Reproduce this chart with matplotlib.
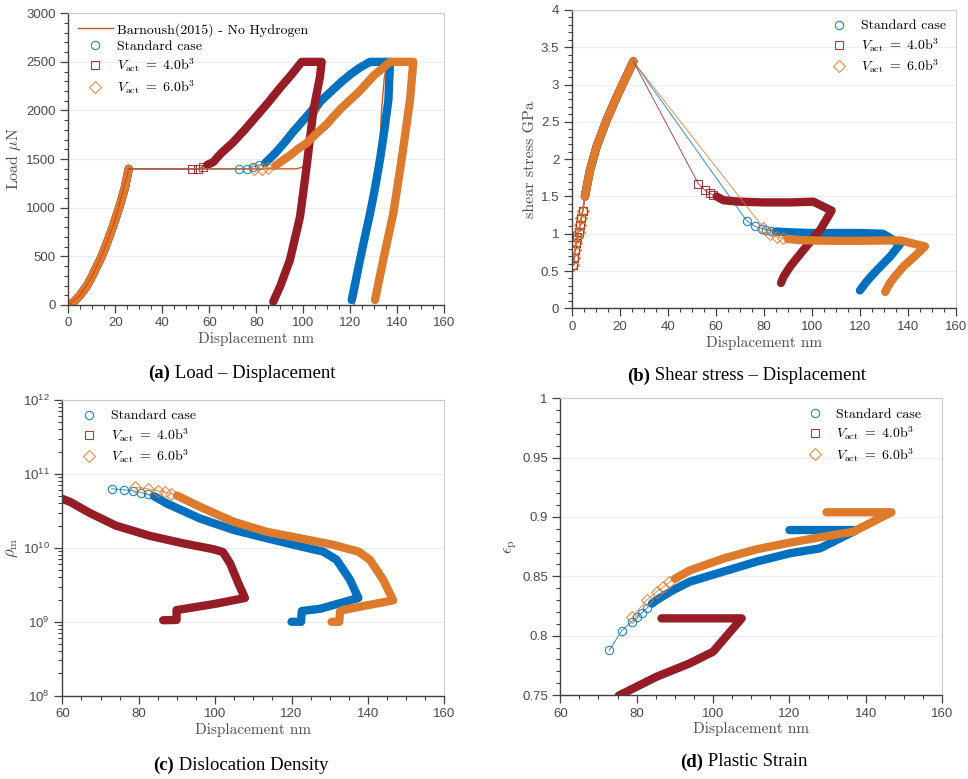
import matplotlib
matplotlib.use("Agg")
import matplotlib.pyplot as plt
from matplotlib.text import Annotation
from matplotlib.ticker import MultipleLocator, LogLocator, NullFormatter, FuncFormatter

plt.rcParams['mathtext.fontset'] = 'cm'
plt.rcParams['font.family'] = ['Liberation Sans', 'DejaVu Sans']

BLUE = '#0070BF'
RED = '#961C25'
ORANGE = '#DE7A2C'
BARN = '#D95319'

LBL_BARN = 'Barnoush(2015) - No Hydrogen'
LBL_STD = 'Standard case'
LBL_V4 = r'$V_{\mathrm{act}}\ =\ 4.0\mathrm{b}^3$'
LBL_V6 = r'$V_{\mathrm{act}}\ =\ 6.0\mathrm{b}^3$'

# ---------------- (a) Load - Displacement ----------------
a_el_x = [0, 2, 5, 8, 10, 12, 14, 16, 18, 20, 22, 24, 25.7]
a_el_y = [0, 25, 100, 200, 290, 390, 490, 610, 740, 880, 1030, 1200, 1400]

a_barn_x = [0, 5, 10, 15, 20, 25.7, 60, 97, 100, 102, 104, 108, 112, 116, 120, 125, 130, 136,
            134.5, 133.3, 132.3, 130.5, 128.5, 126, 124.5, 123, 121.5]
a_barn_y = [0, 100, 290, 550, 880, 1400, 1400, 1400, 1420, 1650, 1900, 2060, 2180, 2280, 2370,
            2450, 2490, 2500, 2350, 2000, 1500, 1150, 850, 600, 350, 150, 0]

a_std_sx = [72.8, 75.9, 78.7, 81.3]
a_std_sy = [1399, 1399, 1423, 1440]
a_std_bx = [83.7, 88, 92, 96, 100, 104, 108, 112, 116, 120, 124, 128.4, 136.9,
            136.2, 134.5, 132.6, 130.5, 128.4, 126.2, 124.1, 122.3, 120.6]
a_std_by = [1458, 1560, 1670, 1790, 1900, 2010, 2110, 2200, 2290, 2370, 2440, 2500, 2500,
            2108, 1800, 1491, 1200, 943, 700, 463, 250, 51]

a_v4_sx = [52.5, 55.1, 57.2]
a_v4_sy = [1399, 1396, 1423]
a_v4_bx = [59.1, 61.7, 65, 70, 75, 80, 85, 90, 95, 99.3, 107.8, 107.1, 104.3, 101.4, 98.6, 94.3, 90.1, 87.2]
a_v4_by = [1440, 1470, 1560, 1670, 1800, 1940, 2080, 2230, 2370, 2500, 2500, 2348, 2005, 1423, 908, 463, 189, 34]

a_v6_sx = [79.1, 82.6, 85.1]
a_v6_sy = [1400, 1400, 1410]
a_v6_bx = [88, 91.5, 95, 98, 101.4, 105, 110, 112.8, 116, 120, 124, 127, 130, 134, 136.9, 146.8,
           145.4, 141.8, 138.3, 134, 130.5]
a_v6_by = [1430, 1491, 1550, 1610, 1663, 1750, 1860, 1937, 2020, 2110, 2200, 2280, 2360, 2440, 2500, 2500,
           2108, 1491, 943, 463, 51]

# ---------------- (b) Shear stress - Displacement ----------------
b_el_sx = [0.67, 0.96, 1.38, 1.8, 2.35, 2.9, 3.46, 3.9, 4.6]
b_el_sy = [0.58, 0.68, 0.78, 0.87, 0.95, 1.03, 1.12, 1.21, 1.30]
b_el_bx = [5.5, 7.6, 10.4, 14.6, 19.4, 25.7]
b_el_by = [1.50, 1.85, 2.17, 2.53, 2.88, 3.31]

b_std_sx = [72.9, 76.4, 79.2, 81, 83]
b_std_sy = [1.175, 1.10, 1.07, 1.055, 1.04]
b_std_bx = [85, 90, 100, 110, 120, 129.7, 136.8, 132.6, 127.1, 122.9, 120.1]
b_std_by = [1.03, 1.02, 1.01, 1.01, 1.01, 1.0, 0.86, 0.69, 0.51, 0.36, 0.24]

b_v4_sx = [52.8, 55.6, 57.6, 59]
b_v4_sy = [1.67, 1.58, 1.54, 1.52]
b_v4_bx = [60.4, 63.2, 66, 70, 80, 91, 100.7, 108.3, 103.5, 96.5, 91, 88.2, 87.2]
b_v4_by = [1.50, 1.45, 1.44, 1.43, 1.42, 1.42, 1.43, 1.31, 1.05, 0.78, 0.56, 0.42, 0.34]

b_v6_sx = [79.9, 82.6, 85.4, 88]
b_v6_sy = [1.08, 1.0, 0.96, 0.94]
b_v6_bx = [90, 95, 100, 110, 120, 130, 137, 147.2, 143, 138.2, 135, 132.6, 130.6]
b_v6_by = [0.93, 0.915, 0.91, 0.905, 0.905, 0.91, 0.91, 0.83, 0.7, 0.56, 0.44, 0.34, 0.22]

# ---------------- (c) Dislocation density ----------------
c_std_sx = [72.9, 76.1, 78.6, 80.5, 82.3]
c_std_sy = [6.3e10, 6.1e10, 5.9e10, 5.6e10, 5.3e10]
c_std_bx = [84, 87.3, 96, 104.8, 113.5, 122.2, 128.3, 131.8, 135.3, 137.5, 127.5, 122.7, 122.5, 120]
c_std_by = [5.0e10, 4.0e10, 2.5e10, 1.75e10, 1.35e10, 1.05e10, 8.9e9, 6.9e9, 3.7e9, 2.1e9,
            1.5e9, 1.4e9, 1.0e9, 1.0e9]

c_v4_sx = []
c_v4_sy = []
c_v4_bx = [60, 62, 67, 74, 83, 91.7, 99.5, 102, 103.9, 106.1, 107.8, 100, 91, 89.9, 89.9, 86.4]
c_v4_by = [4.6e10, 4.2e10, 3.0e10, 2.0e10, 1.45e10, 1.15e10, 9.6e9, 8.8e9, 6.2e9, 3.3e9, 2.1e9,
           1.75e9, 1.47e9, 1.44e9, 1.06e9, 1.05e9]

c_v6_sx = [79, 82.5, 85.1, 86.9, 88.5]
c_v6_sy = [6.6e10, 6.3e10, 5.9e10, 5.7e10, 5.4e10]
c_v6_bx = [90, 96, 104.8, 113.5, 122.2, 130.9, 137.5, 140.5, 144, 146.6, 133.6, 132.7, 132.5, 130.5]
c_v6_by = [5.1e10, 3.6e10, 2.26e10, 1.65e10, 1.35e10, 1.1e10, 8.9e9, 6.9e9, 3.7e9, 1.95e9,
           1.45e9, 1.38e9, 1.0e9, 1.0e9]

# ---------------- (d) Plastic strain ----------------
d_std_sx = [72.8, 76.1, 78.7, 80, 81.3, 82.6]
d_std_sy = [0.7876, 0.8042, 0.8118, 0.816, 0.819, 0.823]
d_std_bx = [84, 85.2, 89.6, 93.9, 102.7, 111.4, 120.1, 128, 136.7, 137.5, 120]
d_std_by = [0.827, 0.830, 0.8385, 0.8455, 0.854, 0.8624, 0.8694, 0.8736, 0.8876, 0.889, 0.889]

d_v4_sx = []
d_v4_sy = []
d_v4_bx = [75.3, 76.5, 85.2, 93.9, 100, 107.5, 86.5]
d_v4_by = [0.7495, 0.7514, 0.7654, 0.7767, 0.7865, 0.8146, 0.8146]

d_v6_sx = [78.9, 82.6, 85.2, 86.96, 88.5]
d_v6_sy = [0.816, 0.830, 0.837, 0.841, 0.845]
d_v6_bx = [90, 93.9, 102.7, 111.4, 120.1, 128.8, 136.7, 146.7, 129.7]
d_v6_by = [0.848, 0.855, 0.865, 0.8728, 0.8784, 0.8834, 0.8876, 0.904, 0.904]

BAND_LW = 6


def series(ax, sx, sy, bx, by, color, marker, label, start=None):
    # thin connecting line, sparse open markers, then the dense band
    xs = ([start[0]] if start else []) + list(sx) + [bx[0]]
    ys = ([start[1]] if start else []) + list(sy) + [by[0]]
    ax.plot(xs, ys, '-', color=color, lw=0.7, alpha=0.8)
    ax.plot(sx, sy, ls='none', marker=marker, ms=6, mfc='none', mec=color, mew=0.8,
            alpha=0.85, label=label)
    ax.plot(bx, by, '-', color=color, lw=BAND_LW, solid_capstyle='round', solid_joinstyle='round')


def style(ax):
    for s in ['top', 'right']:
        ax.spines[s].set_color('#cccccc')
        ax.spines[s].set_linewidth(0.8)
    for s in ['left', 'bottom']:
        ax.spines[s].set_color('#404040')
        ax.spines[s].set_linewidth(1.0)
    ax.tick_params(which='both', direction='out', colors='#404040', labelcolor='#4a4a4a',
                   labelsize=9.5, top=False, right=False)
    ax.tick_params(which='major', length=5.5, width=0.9)
    ax.tick_params(which='minor', length=3, width=0.8)
    ax.grid(axis='y', which='major', color='#ececec', lw=0.8)
    ax.set_axisbelow(True)
    ax.set_xlabel('Displacement nm', fontsize=11, family='cmr10', color='#505050', labelpad=2)


def legend(ax, **kw):
    h, l = ax.get_legend_handles_labels()
    ax.legend(h, l, frameon=False, prop={'family': 'cmr10', 'size': 10},
              handlelength=2.5, handletextpad=0.3, labelspacing=0.25, borderaxespad=0.3, **kw)


fig = plt.figure(figsize=(9.68, 7.79), dpi=100)
ax_a = fig.add_axes([0.0706, 0.6085, 0.3884, 0.3745])
ax_b = fig.add_axes([0.5906, 0.6042, 0.3967, 0.3830])
ax_c = fig.add_axes([0.0644, 0.1069, 0.3946, 0.3796])
ax_d = fig.add_axes([0.5788, 0.1078, 0.3946, 0.3809])

# (a)
ax = ax_a
style(ax)
for col in [BLUE, RED, ORANGE]:
    ax.plot(a_el_x, a_el_y, '-', color=col, lw=BAND_LW, solid_capstyle='round')
ax.plot(a_barn_x, a_barn_y, '-', color=BARN, lw=1.0, label=LBL_BARN)
peak = (a_el_x[-1], a_el_y[-1])
series(ax, a_std_sx, a_std_sy, a_std_bx, a_std_by, BLUE, 'o', LBL_STD, peak)
series(ax, a_v4_sx, a_v4_sy, a_v4_bx, a_v4_by, RED, 's', LBL_V4, peak)
series(ax, a_v6_sx, a_v6_sy, a_v6_bx, a_v6_by, ORANGE, 'D', LBL_V6, peak)
ax.set_xlim(0, 160)
ax.set_ylim(0, 3000)
ax.xaxis.set_major_locator(MultipleLocator(20))
ax.xaxis.set_minor_locator(MultipleLocator(5))
ax.yaxis.set_major_locator(MultipleLocator(500))
ax.yaxis.set_minor_locator(MultipleLocator(100))
ax.set_ylabel(r'$\mathrm{Load}\ \mu\mathrm{N}$', fontsize=11.5, color='#505050', labelpad=2)
legend(ax, loc='upper left', bbox_to_anchor=(0.0, 1.0))

# (b)
ax = ax_b
style(ax)
for col, mk in [(BLUE, 'o'), (RED, 's'), (ORANGE, 'D')]:
    ax.plot(b_el_sx + b_el_bx, b_el_sy + b_el_by, '-', color=col, lw=0.7)
    ax.plot(b_el_sx, b_el_sy, ls='none', marker=mk, ms=6, mfc='none', mec=col, mew=0.8)
    ax.plot(b_el_bx, b_el_by, '-', color=col, lw=BAND_LW, solid_capstyle='round')
peak = (b_el_bx[-1], b_el_by[-1])
series(ax, b_std_sx, b_std_sy, b_std_bx, b_std_by, BLUE, 'o', LBL_STD, peak)
series(ax, b_v4_sx, b_v4_sy, b_v4_bx, b_v4_by, RED, 's', LBL_V4, peak)
series(ax, b_v6_sx, b_v6_sy, b_v6_bx, b_v6_by, ORANGE, 'D', LBL_V6, peak)
ax.set_xlim(0, 160)
ax.set_ylim(0, 4)
ax.xaxis.set_major_locator(MultipleLocator(20))
ax.xaxis.set_minor_locator(MultipleLocator(5))
ax.yaxis.set_major_locator(MultipleLocator(0.5))
ax.yaxis.set_minor_locator(MultipleLocator(0.1))
ax.yaxis.set_major_formatter(FuncFormatter(lambda v, p: f'{v:g}'))
ax.set_ylabel('shear stress GPa', fontsize=11.5, family='cmr10', color='#505050', labelpad=3)
legend(ax, loc='upper right', bbox_to_anchor=(1.0, 1.0))

# (c)
ax = ax_c
style(ax)
series(ax, c_std_sx, c_std_sy, c_std_bx, c_std_by, BLUE, 'o', LBL_STD)
series(ax, c_v4_sx, c_v4_sy, c_v4_bx, c_v4_by, RED, 's', LBL_V4)
series(ax, c_v6_sx, c_v6_sy, c_v6_bx, c_v6_by, ORANGE, 'D', LBL_V6)
ax.set_yscale('log')
ax.set_xlim(60, 160)
ax.set_ylim(1e8, 1e12)
ax.xaxis.set_major_locator(MultipleLocator(20))
ax.xaxis.set_minor_locator(MultipleLocator(5))
ax.yaxis.set_major_locator(LogLocator(base=10, numticks=10))
ax.yaxis.set_minor_locator(LogLocator(base=10, subs=range(2, 10), numticks=20))
ax.yaxis.set_minor_formatter(NullFormatter())
ax.set_ylabel(r'$\rho_{\mathrm{m}}$', fontsize=12, color='#505050', labelpad=2)
legend(ax, loc='upper left', bbox_to_anchor=(0.0, 1.0))

# (d)
ax = ax_d
style(ax)
series(ax, d_std_sx, d_std_sy, d_std_bx, d_std_by, BLUE, 'o', LBL_STD)
series(ax, d_v4_sx, d_v4_sy, d_v4_bx, d_v4_by, RED, 's', LBL_V4)
series(ax, d_v6_sx, d_v6_sy, d_v6_bx, d_v6_by, ORANGE, 'D', LBL_V6)
ax.set_xlim(60, 160)
ax.set_ylim(0.75, 1.0)
ax.xaxis.set_major_locator(MultipleLocator(20))
ax.xaxis.set_minor_locator(MultipleLocator(5))
ax.yaxis.set_major_locator(MultipleLocator(0.05))
ax.yaxis.set_minor_locator(MultipleLocator(0.01))
ax.yaxis.set_major_formatter(FuncFormatter(lambda v, p: f'{v:g}'))
ax.set_ylabel(r'$\epsilon_{\mathrm{p}}$', fontsize=12, color='#505050', labelpad=2)
legend(ax, loc='upper right', bbox_to_anchor=(0.97, 1.0))

# captions: bold tag followed by regular text
captions = [
    (148, 373, '(a)', 'Load \u2013 Displacement'),
    (627, 376, '(b)', 'Shear stress \u2013 Displacement'),
    (153, 765, '(c)', 'Dislocation Density'),
    (680, 762, '(d)', 'Plastic Strain'),
]
for px, py, tag, txt in captions:
    t = fig.text(px / 968, 1 - py / 779, tag, fontsize=13.5, fontweight='bold',
                 family='Liberation Serif', va='center', ha='left')
    fig.add_artist(Annotation(' ' + txt, xy=(1, 0.5), xycoords=t, va='center', ha='left',
                              fontsize=13.5, family='Liberation Serif'))

fig.savefig('out.png', dpi=100)
